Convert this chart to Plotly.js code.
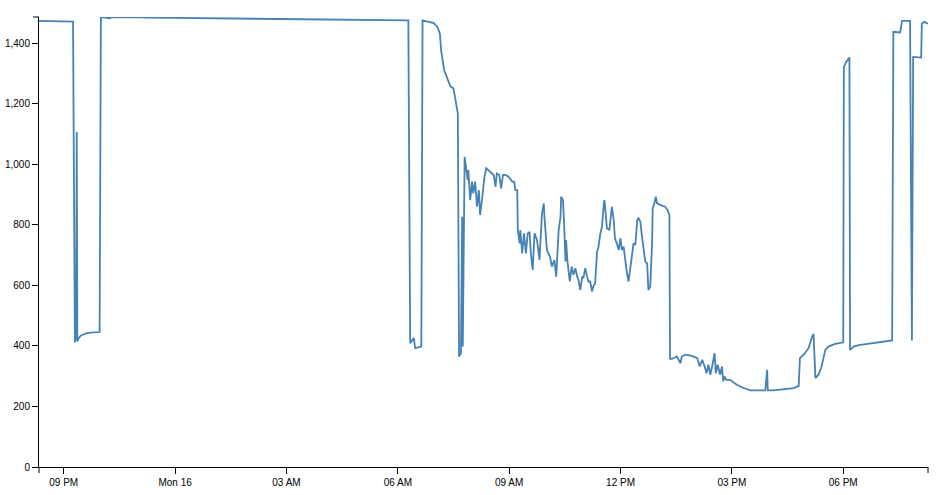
<!DOCTYPE html>
<html>
<head>
<meta charset="utf-8">
<script src="https://cdn.plot.ly/plotly-3.0.1.min.js"></script>
<style>
  html, body { margin: 0; padding: 0; background: #fff; }
  #chart { width: 944px; height: 495px; }
</style>
</head>
<body>
<div id="chart"></div>
<script>
// ---- data ----
const times = [
  "2020-03-15 20:20","2020-03-15 20:47","2020-03-15 21:15","2020-03-15 21:18","2020-03-15 21:20",
  "2020-03-15 21:21","2020-03-15 21:22","2020-03-15 21:24","2020-03-15 21:27","2020-03-15 21:35",
  "2020-03-15 21:43","2020-03-15 21:58","2020-03-15 22:00","2020-03-15 22:15","2020-03-15 22:16",
  "2020-03-15 23:00","2020-03-15 23:17","2020-03-15 23:18",
  "2020-03-16 00:00","2020-03-16 01:00","2020-03-16 02:00","2020-03-16 03:00","2020-03-16 04:00",
  "2020-03-16 05:00","2020-03-16 06:00","2020-03-16 06:17","2020-03-16 06:20","2020-03-16 06:23",
  "2020-03-16 06:26","2020-03-16 06:28","2020-03-16 06:33","2020-03-16 06:38","2020-03-16 06:40",
  "2020-03-16 06:58","2020-03-16 07:04","2020-03-16 07:08","2020-03-16 07:10","2020-03-16 07:13",
  "2020-03-16 07:15","2020-03-16 07:20","2020-03-16 07:25","2020-03-16 07:30","2020-03-16 07:35",
  "2020-03-16 07:37","2020-03-16 07:39","2020-03-16 07:42","2020-03-16 07:44","2020-03-16 07:45",
  "2020-03-16 07:48","2020-03-16 07:53","2020-03-16 07:54","2020-03-16 07:57","2020-03-16 08:00",
  "2020-03-16 08:02","2020-03-16 08:05","2020-03-16 08:08","2020-03-16 08:11","2020-03-16 08:13",
  "2020-03-16 08:16","2020-03-16 08:20","2020-03-16 08:23","2020-03-16 08:29","2020-03-16 08:35",
  "2020-03-16 08:38","2020-03-16 08:40","2020-03-16 08:44","2020-03-16 08:47","2020-03-16 08:50",
  "2020-03-16 08:54","2020-03-16 08:59","2020-03-16 09:05","2020-03-16 09:08","2020-03-16 09:10",
  "2020-03-16 09:13","2020-03-16 09:14","2020-03-16 09:17","2020-03-16 09:18","2020-03-16 09:21",
  "2020-03-16 09:24","2020-03-16 09:27","2020-03-16 09:30","2020-03-16 09:33","2020-03-16 09:35",
  "2020-03-16 09:38","2020-03-16 09:41","2020-03-16 09:45","2020-03-16 09:49","2020-03-16 09:53",
  "2020-03-16 09:56","2020-03-16 09:57","2020-03-16 10:01","2020-03-16 10:06","2020-03-16 10:09",
  "2020-03-16 10:13","2020-03-16 10:16","2020-03-16 10:20","2020-03-16 10:23","2020-03-16 10:24",
  "2020-03-16 10:27","2020-03-16 10:29","2020-03-16 10:31","2020-03-16 10:32","2020-03-16 10:34",
  "2020-03-16 10:38","2020-03-16 10:41","2020-03-16 10:44","2020-03-16 10:47","2020-03-16 10:50",
  "2020-03-16 10:52","2020-03-16 10:55","2020-03-16 10:58","2020-03-16 11:00","2020-03-16 11:03",
  "2020-03-16 11:06","2020-03-16 11:08","2020-03-16 11:11","2020-03-16 11:14","2020-03-16 11:16",
  "2020-03-16 11:19","2020-03-16 11:22","2020-03-16 11:24","2020-03-16 11:27","2020-03-16 11:30",
  "2020-03-16 11:33","2020-03-16 11:34","2020-03-16 11:36","2020-03-16 11:38","2020-03-16 11:42",
  "2020-03-16 11:44","2020-03-16 11:46","2020-03-16 11:49","2020-03-16 11:51","2020-03-16 11:54",
  "2020-03-16 11:57","2020-03-16 12:00","2020-03-16 12:02","2020-03-16 12:05","2020-03-16 12:08",
  "2020-03-16 12:10","2020-03-16 12:13","2020-03-16 12:16","2020-03-16 12:18","2020-03-16 12:21",
  "2020-03-16 12:24","2020-03-16 12:27","2020-03-16 12:29","2020-03-16 12:32","2020-03-16 12:35",
  "2020-03-16 12:37","2020-03-16 12:40","2020-03-16 12:43","2020-03-16 12:45","2020-03-16 12:48",
  "2020-03-16 12:51","2020-03-16 12:52","2020-03-16 12:54","2020-03-16 12:57","2020-03-16 12:59",
  "2020-03-16 13:04","2020-03-16 13:12","2020-03-16 13:16","2020-03-16 13:19","2020-03-16 13:20",
  "2020-03-16 13:23","2020-03-16 13:31","2020-03-16 13:37","2020-03-16 13:39","2020-03-16 13:45",
  "2020-03-16 13:55","2020-03-16 14:04","2020-03-16 14:08","2020-03-16 14:12","2020-03-16 14:16",
  "2020-03-16 14:19","2020-03-16 14:22","2020-03-16 14:25","2020-03-16 14:28","2020-03-16 14:32",
  "2020-03-16 14:34","2020-03-16 14:37","2020-03-16 14:41","2020-03-16 14:44","2020-03-16 14:46",
  "2020-03-16 14:48","2020-03-16 14:51","2020-03-16 14:57","2020-03-16 15:08","2020-03-16 15:19",
  "2020-03-16 15:30","2020-03-16 15:40","2020-03-16 15:54","2020-03-16 15:57","2020-03-16 15:58",
  "2020-03-16 16:07","2020-03-16 16:18","2020-03-16 16:29","2020-03-16 16:40","2020-03-16 16:48",
  "2020-03-16 16:50","2020-03-16 16:58","2020-03-16 17:04","2020-03-16 17:09","2020-03-16 17:12",
  "2020-03-16 17:15","2020-03-16 17:20","2020-03-16 17:25","2020-03-16 17:31","2020-03-16 17:36",
  "2020-03-16 17:47","2020-03-16 18:00","2020-03-16 18:01","2020-03-16 18:05","2020-03-16 18:10",
  "2020-03-16 18:11","2020-03-16 18:17","2020-03-16 18:25","2020-03-16 18:44","2020-03-16 19:02",
  "2020-03-16 19:19","2020-03-16 19:21","2020-03-16 19:32","2020-03-16 19:35","2020-03-16 19:48",
  "2020-03-16 19:51","2020-03-16 19:53","2020-03-16 20:06","2020-03-16 20:07","2020-03-16 20:11",
  "2020-03-16 20:17"
];
const values = [
  1474,1473,1472,412,430,
  1107,415,425,433,441,
  444,446,1487,1483,1486,
  1486,1483,1485,
  1484,1483,1482,1481,1480,
  1479,1477,1476,409,420,
  426,393,396,398,1476,
  1467,1454,1432,1377,1344,
  1311,1284,1258,1251,1190,
  1168,365,376,827,398,
  1025,948,981,882,943,
  904,943,860,915,833,
  882,959,987,976,965,
  926,970,965,921,965,
  965,959,943,943,915,
  915,783,739,783,706,
  772,706,772,777,706,
  651,772,750,684,838,
  871,827,717,695,662,
  684,629,783,827,893,
  882,794,679,750,684,
  613,662,635,657,629,
  618,585,629,624,657,
  629,613,613,580,596,
  607,712,723,767,794,
  871,882,838,789,783,
  816,860,816,756,739,
  717,756,717,728,668,
  646,613,657,695,739,
  734,816,822,811,756,
  728,679,673,585,596,
  739,855,866,893,871,
  866,860,849,833,357,
  357,365,343,365,371,
  367,360,332,354,332,
  310,338,305,332,376,
  310,338,305,332,283,
  299,288,288,272,261,
  253,253,253,321,253,
  253,255,257,261,268,
  360,376,393,426,440,
  294,305,332,387,398,
  407,412,1322,1339,1353,
  387,398,403,409,414,
  418,1438,1436,1474,1474,
  418,1355,1353,1465,1471,
  1465
];
const tickVals = [
  "2020-03-15 21:00","2020-03-16 00:00","2020-03-16 03:00","2020-03-16 06:00",
  "2020-03-16 09:00","2020-03-16 12:00","2020-03-16 15:00","2020-03-16 18:00"
];
const tickText = ["09 PM","Mon 16","03 AM","06 AM","09 AM","12 PM","03 PM","06 PM"];

const trace = {
  x: times, y: values, type: "scatter", mode: "lines",
  line: { color: "#4682b4", width: 1.8 },
  hoverinfo: "x+y"
};

const axisFont = { family: "Liberation Sans, Arial, sans-serif", size: 10, color: "#000" };
const layout = {
  width: 944, height: 495,
  margin: { l: 39, r: 16, t: 17, b: 28, pad: 0 },
  paper_bgcolor: "#fff", plot_bgcolor: "#fff",
  showlegend: false,
  xaxis: {
    type: "date",
    range: [times[0], times[times.length - 1]],
    tickmode: "array", tickvals: tickVals, ticktext: tickText,
    showgrid: false, zeroline: false,
    showline: true, linecolor: "#000", linewidth: 1,
    ticks: "outside", ticklen: 6, tickcolor: "#000", tickwidth: 1,
    tickfont: axisFont
  },
  yaxis: {
    range: [0, Math.max(...values)],
    tickmode: "linear", tick0: 0, dtick: 200, tickformat: ",",
    showgrid: false, zeroline: false,
    showline: true, linecolor: "#000", linewidth: 1,
    ticks: "outside", ticklen: 6, tickcolor: "#000", tickwidth: 1,
    tickfont: axisFont
  },
  shapes: [
    { type: "line", xref: "paper", yref: "paper", xsizemode: "pixel", xanchor: 0,
      x0: -6, x1: 0, y0: 1, y1: 1, line: { color: "#000", width: 1 } },
    { type: "line", xref: "paper", yref: "paper", ysizemode: "pixel", yanchor: 0,
      x0: 0, x1: 0, y0: -6, y1: 0, line: { color: "#000", width: 1 } },
    { type: "line", xref: "paper", yref: "paper", ysizemode: "pixel", yanchor: 0,
      x0: 1, x1: 1, y0: -6, y1: 0, line: { color: "#000", width: 1 } }
  ]
};

Plotly.newPlot("chart", [trace], layout, { displayModeBar: false, staticPlot: true });
</script>
</body>
</html>
